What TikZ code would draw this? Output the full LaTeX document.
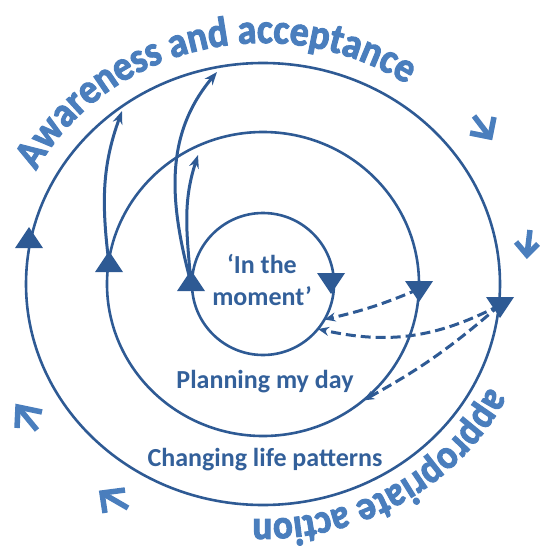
\documentclass[tikz,border=0pt]{standalone}
\usepackage{fontspec}
\setmainfont{Carlito}
\newfontfamily\titlefont[BoldFeatures={FakeBold=2.5,FakeStretch=0.9}]{Carlito}
\usetikzlibrary{arrows.meta,decorations.text}
\definecolor{dk}{HTML}{2E5A94}
\definecolor{lt}{HTML}{4A7EBD}
\definecolor{tx}{HTML}{33609A}
\tikzset{
 ring/.style={draw=dk, line width=2.6pt},
 flowarrow/.style={draw=dk, line width=3pt, -{Stealth[length=13pt,width=10pt]}},
 dasharrow/.style={draw=dk, line width=3pt, dash pattern=on 10pt off 5pt, -{Stealth[length=11pt,width=9pt]}},
 chev/.style={draw=lt, line width=5.5pt},
 lbl/.style={text=tx, font=\bfseries\fontsize{26}{30}\selectfont, anchor=base, inner sep=0pt},
 triup/.pic={\fill[dk] (0,13) -- (-14,-8) -- (14,-8) -- cycle;},
 tridown/.pic={\fill[dk] (0,-13) -- (-14,8) -- (14,8) -- cycle;},
}
\begin{document}
\begin{tikzpicture}[x=1pt,y=1pt]
\useasboundingbox (0,0) rectangle (539,-549);
\coordinate (C) at (263,-284);
% rings
\draw[ring] (C) ellipse [x radius=237, y radius=221];
\draw[ring] (C) ellipse [x radius=156, y radius=152];
\draw[ring] (C) circle [radius=71];
% triangle positions
\coordinate (tOL) at (29,-240);
\coordinate (tML) at (109,-264);
\coordinate (tIL) at (191,-283);
\coordinate (tIR) at (331,-281);
\coordinate (tMR) at (419,-289);
\coordinate (tOR) at (500,-305);
% arrow targets
\coordinate (a1) at (122,-111);
\coordinate (a2) at (217,-72);
\coordinate (a3) at (198,-155);
\coordinate (d1) at (324.5,-319.5);
\coordinate (d2) at (318,-329);
\coordinate (d3) at (363.3,-400.4);
% solid arrows
\draw[flowarrow] (tML) to[out=97, in=-110] (a1);
\draw[flowarrow] (tIL) to[out=105, in=-130] (a2);
\draw[flowarrow] (tIL) to[out=95, in=-108] (a3);
% dashed arrows
\draw[dasharrow] (tMR) to[bend left=5] (d1);
\draw[dasharrow] (tOR) to[bend left=20] (d2);
\draw[dasharrow] (tOR) to[bend left=6] (d3);
% triangles
\pic at (tOL) {triup};
\pic at (tML) {triup};
\pic at (tIL) {triup};
\pic at (tIR) {tridown};
\pic at (tMR) {tridown};
\pic at (tOR) {tridown};
% labels
\node[lbl] (inA) at (262,-273) {‘In the};
\node[lbl] (inB) at (262,-305) {moment’};
\node[lbl] (plan) at (265,-388) {Planning my day};
\node[lbl] (chg) at (265,-466) {Changing life patterns};
% curved titles
\path[decorate, decoration={text along path, text color=lt, text align=left,
  text={|\titlefont\bfseries\fontsize{42}{46}\selectfont|Awareness and acceptance}}]
  (36.1,-170.9) arc[start angle=152, end angle=35, x radius=257, y radius=241];
\path[decorate, decoration={text along path, text color=lt, text align=left,
  text={|\titlefont\bfseries\fontsize{41}{45}\selectfont|appropriate action}}]
  (489.5,-387) arc[start angle=-26, end angle=-115, x radius=252, y radius=235];
% direction chevrons
\coordinate (c1t) at (490,-137);
\draw[chev] (470,-133) -- (c1t) -- (494,-117);
\draw[chev] (474,-116) -- (c1t);
\coordinate (c2t) at (527,-255);
\draw[chev] (516,-242) -- (c2t) -- (538,-244);
\draw[chev] (530,-230) -- (c2t);
\coordinate (c3t) at (18,-407);
\draw[chev] (42,-412) -- (c3t) -- (17,-428);
\draw[chev] (37,-430) -- (c3t);
\coordinate (c4t) at (102,-493);
\draw[chev] (125,-490) -- (c4t) -- (105,-513);
\draw[chev] (128,-508) -- (c4t);
\end{tikzpicture}
\end{document}
